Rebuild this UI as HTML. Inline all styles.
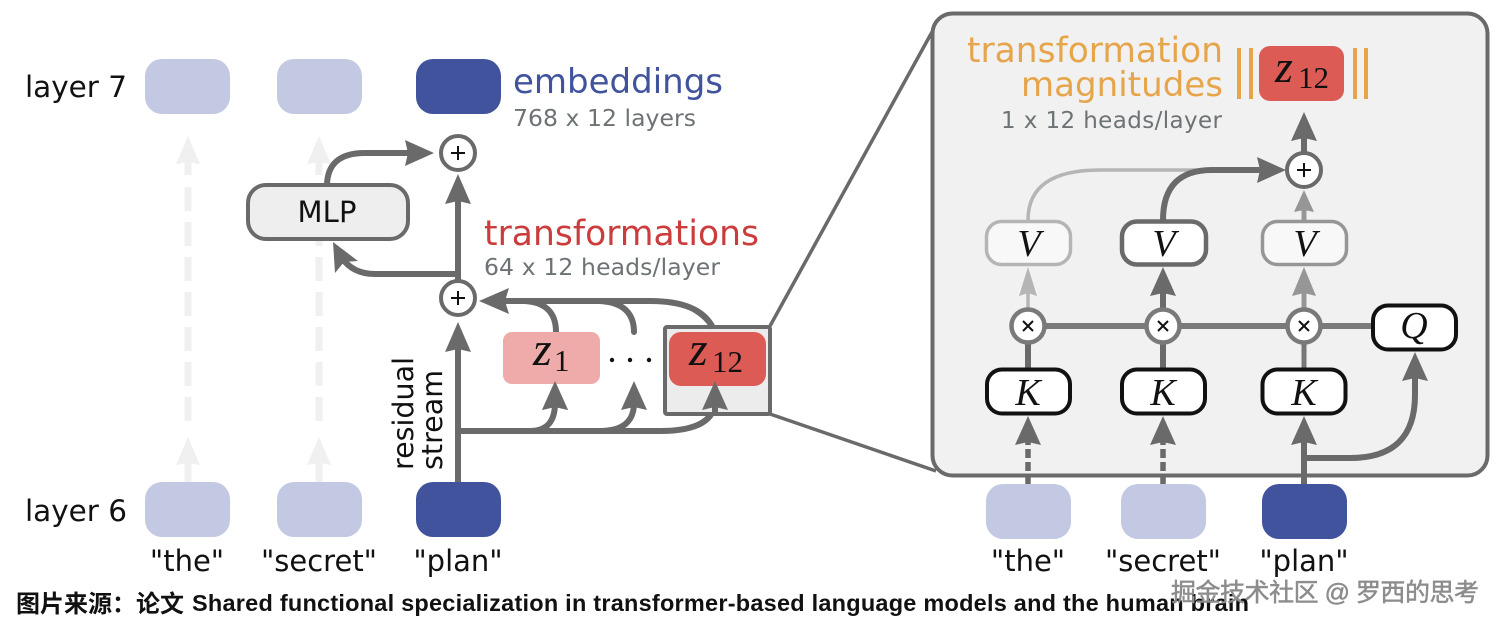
<!DOCTYPE html>
<html><head><meta charset="utf-8"><style>
html,body{margin:0;padding:0;background:#fff;width:1499px;height:624px;overflow:hidden}
svg{display:block}
text{font-family:"DejaVu Sans",sans-serif}
.m{font-family:"Liberation Serif",serif;font-style:italic;fill:#111}
.n{font-family:"Liberation Serif",serif;fill:#111}
</style></head><body>
<svg width="1499" height="624" viewBox="0 0 1499 624" xmlns="http://www.w3.org/2000/svg">
<rect width="1499" height="624" fill="#fff"/>

<!-- ghost dashed -->
<g stroke="#f0f0f0" stroke-width="7" fill="none">
<path d="M188 160V175M188 187V211M188 222V246M188 257V281M188 292V316M188 327V351M188 362V386M188 397V421M188 460V482"/>
<path d="M319 160V175M319 187V211M319 222V246M319 257V281M319 292V316M319 327V351M319 362V386M319 397V421M319 460V482"/>
</g>
<g fill="#f0f0f0">
<path d="M188 136L200 164L188 162L176 164Z"/><path d="M319 136L331 164L319 162L307 164Z"/>
<path d="M188 437L200 465L188 463L176 465Z"/><path d="M319 437L331 465L319 463L307 465Z"/>
</g>

<!-- left boxes -->
<g>
<rect x="145" y="59" width="85" height="55" rx="17" fill="#c3c9e2"/>
<rect x="277" y="59" width="85" height="55" rx="17" fill="#c3c9e2"/>
<rect x="416" y="59" width="85" height="55" rx="17" fill="#41539d"/>
<rect x="145" y="482" width="85" height="55" rx="17" fill="#c3c9e2"/>
<rect x="277" y="482" width="85" height="55" rx="17" fill="#c3c9e2"/>
<rect x="416" y="482" width="85" height="55" rx="17" fill="#41539d"/>
</g>

<!-- left connectors -->
<g stroke="#6a6a6a" stroke-width="6" fill="none">
<path d="M458 482V345"/>
<path d="M458 280V195"/>
<path d="M458 274H375Q353 274 342 258"/>
<path d="M327 186Q327 153 365 153H410"/>
<path d="M458 431H660Q715 431 715 400"/>
<path d="M458 431H530Q555 431 555 403"/>
<path d="M600 431Q634 431 634 403"/>
<path d="M502 301H650Q700 301 713 328"/>
<path d="M502 301H525Q556 303 556 332"/>
<path d="M600 301Q634 303 634 332" stroke-linecap="round"/>
</g>
<g fill="#6a6a6a">
<path d="M458 174L471 204L458 201L445 204Z"/>
<path d="M458 322L471 352L458 349L445 352Z"/>
<path d="M434 153L405 140L408 153L405 166Z"/>
<path d="M333 242L358 261L344 262L335 273Z"/>
<path d="M479 301L509 288L505 301L509 314Z"/>
<path d="M555 381L568 410L555 407L542 410Z"/>
<path d="M634 381L647 410L634 407L621 410Z"/>
</g>

<!-- MLP -->
<rect x="248" y="185" width="160" height="54" rx="18" fill="#eeeeee" stroke="#6a6a6a" stroke-width="4"/>
<text x="327" y="222" font-size="29" text-anchor="middle" fill="#111" textLength="59">MLP</text>

<!-- circles -->
<g fill="#fff" stroke="#6a6a6a" stroke-width="4">
<circle cx="458" cy="153" r="17"/><circle cx="458" cy="298" r="17"/>
</g>
<g stroke="#111" stroke-width="2"><path d="M451 153H465M458 146V160M451 298H465M458 291V305"/></g>

<!-- z boxes -->
<rect x="665" y="327" width="105" height="87" rx="2" fill="#ececec" stroke="#6a6a6a" stroke-width="4"/>
<path d="M713 328Q708 318 695 310" stroke="#6a6a6a" stroke-width="6" fill="none"/>
<path d="M715 414V400" stroke="#6a6a6a" stroke-width="6"/>
<rect x="503" y="332" width="97" height="52" rx="9" fill="#efaaaa"/>
<rect x="669" y="332" width="97" height="54" rx="12" fill="#dd5b55"/>
<path d="M715 381L728 410L715 407L702 410Z" fill="#6a6a6a"/>
<path d="M555 381L568 410L555 407L542 410Z" fill="#6a6a6a"/>
<text class="m" x="533" y="365" font-size="48">z</text>
<text class="n" x="554" y="371" font-size="31">1</text>
<text class="m" x="689" y="365" font-size="48">z</text>
<text class="n" x="712" y="372" font-size="31">12</text>
<g fill="#111"><circle cx="612" cy="360" r="2.200"/><circle cx="630" cy="360" r="2.200"/><circle cx="649" cy="360" r="2.200"/></g>

<!-- left text -->
<text x="25" y="97" font-size="29.500" fill="#111" textLength="102">layer 7</text>
<text x="25" y="521" font-size="29.500" fill="#111" textLength="102">layer 6</text>
<text x="513" y="93" font-size="34" fill="#41539d" textLength="210">embeddings</text>
<text x="513" y="126" font-size="23.500" fill="#6d7275" textLength="183">768 x 12 layers</text>
<text x="484" y="245" font-size="34.500" fill="#cb3c3c" textLength="275">transformations</text>
<text x="484" y="275" font-size="23.500" fill="#6d7275" textLength="236">64 x 12 heads/layer</text>
<text transform="translate(413,470) rotate(-90)" font-size="28.500" fill="#111" textLength="113">residual</text>
<text transform="translate(442,470) rotate(-90)" font-size="28.500" fill="#111" textLength="100">stream</text>
<g font-size="29" fill="#111" text-anchor="middle">
<text x="187" y="571">"the"</text><text x="319" y="571">"secret"</text><text x="458" y="571">"plan"</text>
<text x="1028" y="571">"the"</text><text x="1163" y="571">"secret"</text><text x="1304" y="571">"plan"</text>
</g>

<!-- zoom lines -->
<path d="M770 326L932 32M770 414L936 471" stroke="#6a6a6a" stroke-width="3.500" fill="none"/>

<!-- panel -->
<rect x="932.500" y="13.500" width="555" height="462" rx="20" fill="#f1f1f1" stroke="#6a6a6a" stroke-width="4"/>

<text x="967" y="62" font-size="34.400" fill="#e6a54a" textLength="256">transformation</text>
<text x="1021" y="96" font-size="34" fill="#e6a54a" textLength="202">magnitudes</text>
<text x="1001" y="128" font-size="23" fill="#6d7275" textLength="221">1 x 12 heads/layer</text>
<g stroke="#e6a54a" stroke-width="4"><path d="M1239 48V99M1251 48V99M1355 48V99M1366 48V99"/></g>
<rect x="1259" y="46" width="85" height="55" rx="11" fill="#dd5b55"/>
<text class="m" x="1275" y="82" font-size="46">z</text>
<text class="n" x="1298" y="88" font-size="31">12</text>

<!-- panel connectors -->
<path d="M1028 220Q1028 170 1100 170H1210" stroke="#b5b5b5" stroke-width="3.500" fill="none"/>
<path d="M1028 310V290" stroke="#b5b5b5" stroke-width="3.500"/>
<path d="M1028 267L1037 296L1028 293L1019 296Z" fill="#b5b5b5"/>
<path d="M1163 220Q1163 170 1212 170H1262" stroke="#6a6a6a" stroke-width="6" fill="none"/>
<path d="M1286 170L1257 157L1260 170L1257 183Z" fill="#6a6a6a"/>
<path d="M1163 310V290" stroke="#6a6a6a" stroke-width="6"/>
<path d="M1163 267L1176 296L1163 293L1150 296Z" fill="#6a6a6a"/>
<path d="M1304 310V290" stroke="#969696" stroke-width="5"/>
<path d="M1304 267L1316 296L1304 293L1292 296Z" fill="#969696"/>
<path d="M1304 220V205" stroke="#969696" stroke-width="5"/>
<path d="M1304 190L1314 212L1304 210L1294 212Z" fill="#969696"/>
<path d="M1304 155V135" stroke="#6a6a6a" stroke-width="6"/>
<path d="M1304 112L1317 141L1304 138L1291 141Z" fill="#6a6a6a"/>

<path d="M1028 326H1372" stroke="#7a7a7a" stroke-width="6"/>
<path d="M1028 326V368M1163 326V368" stroke="#6a6a6a" stroke-width="6"/>
<path d="M1304 326V368" stroke="#777" stroke-width="5"/>

<path d="M1028 484V442M1163 484V442" stroke="#6a6a6a" stroke-width="5.500" stroke-dasharray="9 4"/>
<path d="M1304 484V440" stroke="#6a6a6a" stroke-width="6"/>
<path d="M1028 416L1041 445L1028 442L1015 445Z" fill="#6a6a6a"/>
<path d="M1163 416L1176 445L1163 442L1150 445Z" fill="#6a6a6a"/>
<path d="M1304 416L1317 445L1304 442L1291 445Z" fill="#6a6a6a"/>
<path d="M1304 458H1350Q1415 458 1415 395V378" stroke="#6a6a6a" stroke-width="6" fill="none"/>
<path d="M1415 352L1428 381L1415 378L1402 381Z" fill="#6a6a6a"/>

<!-- panel nodes -->
<g fill="#f8f8f8">
<rect x="986.500" y="221.500" width="84" height="43" rx="15" stroke="#b5b5b5" stroke-width="3.500"/>
<rect x="1262.500" y="221.500" width="84" height="43" rx="15" stroke="#969696" stroke-width="3.500"/>
</g>
<rect x="1122" y="221.500" width="84" height="43" rx="15" fill="#fff" stroke="#6a6a6a" stroke-width="4.500"/>
<g fill="#fff" stroke="#111" stroke-width="4">
<rect x="987" y="369.500" width="83" height="44" rx="15"/>
<rect x="1122" y="369.500" width="83" height="44" rx="15"/>
<rect x="1262.500" y="369.500" width="83" height="44" rx="15"/>
<rect x="1373" y="305.500" width="83" height="44" rx="15"/>
</g>
<g font-size="38" text-anchor="middle">
<text class="m" x="1029" y="256">V</text><text class="m" x="1164" y="256">V</text><text class="m" x="1305" y="256">V</text>
<text class="m" x="1028" y="405">K</text><text class="m" x="1163" y="405">K</text><text class="m" x="1304" y="405">K</text>
<text class="m" x="1414" y="338">Q</text>
</g>
<g fill="#fff" stroke="#7a7a7a" stroke-width="4.500">
<circle cx="1028" cy="326" r="16.500"/><circle cx="1163" cy="326" r="16.500"/><circle cx="1304" cy="326" r="16.500"/>
</g>
<g stroke="#111" stroke-width="2">
<path d="M1023 321L1033 331M1033 321L1023 331M1158 321L1168 331M1168 321L1158 331M1299 321L1309 331M1309 321L1299 331"/>
</g>
<circle cx="1304" cy="170" r="17" fill="#fff" stroke="#6a6a6a" stroke-width="4"/>
<path d="M1297 170H1311M1304 163V177" stroke="#111" stroke-width="2"/>

<!-- bottom right tokens -->
<rect x="986" y="484" width="85" height="55" rx="17" fill="#c3c9e2"/>
<rect x="1121" y="484" width="85" height="55" rx="17" fill="#c3c9e2"/>
<rect x="1262" y="484" width="85" height="55" rx="17" fill="#41539d"/>

<!-- caption -->
<text x="16" y="612" font-size="24" font-weight="700" fill="#111" textLength="168" style="font-family:'Liberation Sans','Noto Sans CJK SC',sans-serif">图片来源：论文</text>
<text x="192" y="611" font-size="23.500" font-weight="700" fill="#111" textLength="1057" style="font-family:'Liberation Sans',sans-serif">Shared functional specialization in transformer-based language models and the human brain</text>
<!-- watermark -->
<text x="1171" y="601" font-size="25" fill="#8c8c8c" stroke="#8c8c8c" stroke-width="0.500" textLength="308" style="font-family:'Liberation Sans','Noto Sans CJK SC',sans-serif">掘金技术社区 @ 罗西的思考</text>
</svg>
</body></html>
